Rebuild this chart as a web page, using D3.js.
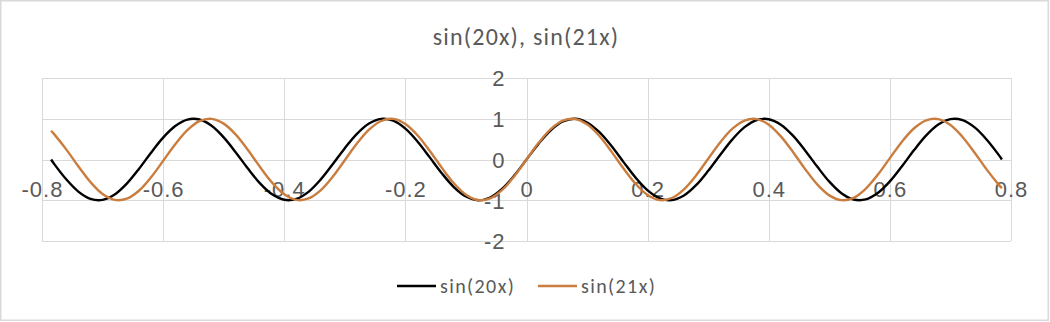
<!DOCTYPE html>
<html lang="en">
<head>
  <meta charset="UTF-8">
  <title>sin(20x), sin(21x)</title>
  <script src="https://d3js.org/d3.v7.min.js"></script>
  <style>
    body { margin: 0; background: white; }
    svg { display: block; font-family: Carlito, Calibri, Lato, sans-serif; }
    .grid line { stroke: #d9d9d9; stroke-width: 1px; }
    .tick text { fill: #595959; font-size: 22px; letter-spacing: 1px; }
  </style>
</head>
<body>
  <svg id="chart"></svg>

  <script>
    const width = 1050, height = 322;

    // x samples (-pi/4 .. pi/4)
    const xValues = [
      -0.785, -0.78, -0.76, -0.74, -0.72, -0.70, -0.68, -0.66, -0.64, -0.62, -0.60,
      -0.58, -0.56, -0.54, -0.52, -0.50, -0.48, -0.46, -0.44, -0.42, -0.40,
      -0.38, -0.36, -0.34, -0.32, -0.30, -0.28, -0.26, -0.24, -0.22, -0.20,
      -0.18, -0.16, -0.14, -0.12, -0.10, -0.08, -0.06, -0.04, -0.02, 0,
      0.02, 0.04, 0.06, 0.08, 0.10, 0.12, 0.14, 0.16, 0.18, 0.20,
      0.22, 0.24, 0.26, 0.28, 0.30, 0.32, 0.34, 0.36, 0.38, 0.40,
      0.42, 0.44, 0.46, 0.48, 0.50, 0.52, 0.54, 0.56, 0.58, 0.60,
      0.62, 0.64, 0.66, 0.68, 0.70, 0.72, 0.74, 0.76, 0.78, 0.785
    ];

    const sin20 = [
      0.000, -0.107, -0.486, -0.787, -0.966, -0.991, -0.859, -0.592, -0.232, 0.166, 0.537,
      0.822, 0.980, 0.981, 0.827, 0.544, 0.174, -0.223, -0.585, -0.855, -0.989,
      -0.968, -0.794, -0.494, -0.117, 0.279, 0.631, 0.883, 0.996, 0.952, 0.757,
      0.443, 0.058, -0.335, -0.675, -0.909, -1.000, -0.932, -0.717, -0.389, 0.000,
      0.389, 0.717, 0.932, 1.000, 0.909, 0.675, 0.335, -0.058, -0.443, -0.757,
      -0.952, -0.996, -0.883, -0.631, -0.279, 0.117, 0.494, 0.794, 0.968, 0.989,
      0.855, 0.585, 0.223, -0.174, -0.544, -0.827, -0.981, -0.980, -0.822, -0.537,
      -0.166, 0.232, 0.592, 0.859, 0.991, 0.966, 0.787, 0.486, 0.107, 0.000
    ];

    const sin21 = [
      0.707, 0.623, 0.249, -0.167, -0.554, -0.846, -0.990, -0.962, -0.767, -0.438, -0.034,
      0.375, 0.719, 0.941, 0.998, 0.880, 0.610, 0.233, -0.184, -0.568, -0.855,
      -0.992, -0.957, -0.756, -0.423, -0.017, 0.390, 0.731, 0.945, 0.996, 0.872,
      0.596, 0.217, -0.200, -0.583, -0.863, -0.994, -0.952, -0.745, -0.408, 0.000,
      0.408, 0.745, 0.952, 0.994, 0.863, 0.583, 0.200, -0.217, -0.596, -0.872,
      -0.996, -0.945, -0.731, -0.390, 0.017, 0.423, 0.756, 0.957, 0.992, 0.855,
      0.568, 0.184, -0.233, -0.610, -0.880, -0.998, -0.941, -0.719, -0.375, 0.034,
      0.438, 0.767, 0.962, 0.990, 0.846, 0.554, 0.167, -0.249, -0.623, -0.707
    ];

    const xTicks = [-0.8, -0.6, -0.4, -0.2, 0, 0.2, 0.4, 0.6, 0.8];
    const yTicks = [-2, -1, 0, 1, 2];

    const series = [
      { name: "sin(20x)", values: sin20, color: "#000000" },
      { name: "sin(21x)", values: sin21, color: "#c97d3f" }
    ];

    const svg = d3.select("#chart").attr("width", width).attr("height", height);

    // outer chart border
    svg.append("rect")
      .attr("x", 0.75).attr("y", 0.75)
      .attr("width", width - 2.5).attr("height", height - 2.5)
      .attr("fill", "white").attr("stroke", "#d9d9d9").attr("stroke-width", 1.5);

    const x = d3.scaleLinear().domain([-0.8, 0.8]).range([42, 1011]);
    const y = d3.scaleLinear().domain([-2, 2]).range([241, 78]);

    // plain hyphen minus, like the original
    const fmt = d => String(+d.toFixed(1));

    // gridlines
    const grid = svg.append("g").attr("class", "grid");
    grid.selectAll("line.v").data(xTicks).join("line")
      .attr("class", "v")
      .attr("x1", d => Math.round(x(d)) + 0.5).attr("x2", d => Math.round(x(d)) + 0.5)
      .attr("y1", y(2)).attr("y2", y(-2));
    grid.selectAll("line.h").data(yTicks).join("line")
      .attr("class", "h")
      .attr("y1", d => Math.round(y(d)) + 0.5).attr("y2", d => Math.round(y(d)) + 0.5)
      .attr("x1", x(-0.8)).attr("x2", x(0.8));

    // x axis labels (sit below the zero line)
    const xAxis = svg.append("g")
      .attr("transform", `translate(0,${y(0)})`)
      .call(d3.axisBottom(x).tickValues(xTicks).tickSize(0).tickFormat(fmt));
    xAxis.select(".domain").remove();
    xAxis.selectAll("text").attr("dy", null).attr("y", 37);

    // y axis labels (left of x = 0)
    const yAxis = svg.append("g")
      .attr("transform", `translate(${x(0)},0)`)
      .call(d3.axisLeft(y).tickValues(yTicks).tickSize(0).tickPadding(21).tickFormat(fmt));
    yAxis.select(".domain").remove();
    yAxis.selectAll("text").attr("dy", "0.36em");

    // curves
    const line = d3.line()
      .x((d, i) => x(xValues[i]))
      .y(d => y(d))
      .curve(d3.curveCatmullRom);

    svg.append("g").selectAll("path").data(series).join("path")
      .attr("d", d => line(d.values))
      .attr("fill", "none")
      .attr("stroke", d => d.color)
      .attr("stroke-width", 2.4)
      .attr("stroke-linejoin", "round");

    // title
    svg.append("text")
      .attr("x", 526).attr("y", 45)
      .attr("text-anchor", "middle")
      .attr("fill", "#595959")
      .style("font-size", "24px")
      .style("letter-spacing", "1.2px")
      .text("sin(20x), sin(21x)");

    // legend
    const legend = svg.append("g");
    const legendX = [397, 538];
    series.forEach((s, i) => {
      const g = legend.append("g").attr("transform", `translate(${legendX[i]},286)`);
      g.append("line").attr("x1", 0).attr("x2", 39).attr("y1", 0).attr("y2", 0)
        .attr("stroke", s.color).attr("stroke-width", 2.6);
      g.append("text").attr("x", 43).attr("y", 0).attr("dy", "0.36em")
        .attr("fill", "#595959").style("font-size", "20px").style("letter-spacing", "1.4px")
        .text(s.name);
    });
  </script>
</body>
</html>
